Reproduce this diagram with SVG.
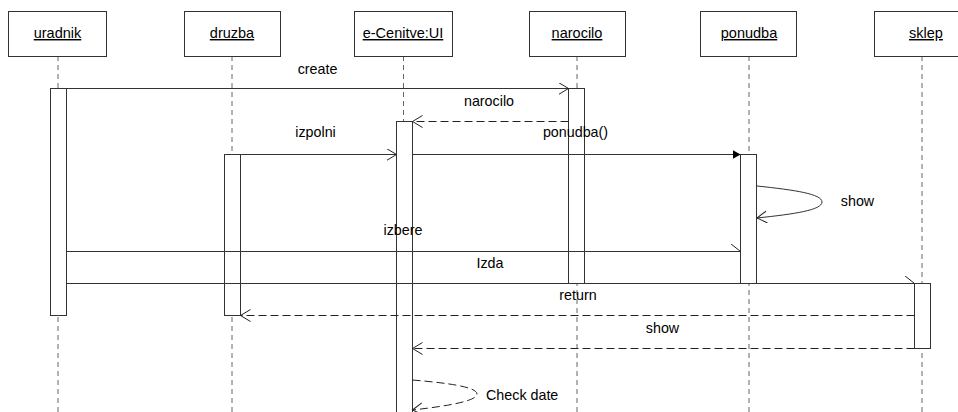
<svg xmlns="http://www.w3.org/2000/svg" width="958" height="412" viewBox="0 0 958 412">
<defs>
<style>
.hdr{fill:#fff;stroke:#333;stroke-width:1}
.ht{font-family:"Liberation Sans",Arial,sans-serif;font-size:14.5px;fill:#000;text-anchor:middle;text-decoration:underline}
.lbl{font-family:"Liberation Sans",Arial,sans-serif;font-size:14.3px;fill:#000;text-anchor:middle}
.life{stroke:#666;stroke-width:1;stroke-dasharray:5,4;fill:none}
.act{fill:#fff;stroke:#333;stroke-width:1}
.msg{stroke:#333;stroke-width:1;fill:none}
.ret{stroke:#222;stroke-width:1;fill:none;stroke-dasharray:8,4}
</style>
<marker id="open" markerWidth="12" markerHeight="14" refX="10" refY="6" orient="auto" markerUnits="userSpaceOnUse">
<path d="M0,0 L10,6 L0,12" fill="none" stroke="#222" stroke-width="1"/>
</marker>
<marker id="half" markerWidth="12" markerHeight="10" refX="10" refY="8" orient="auto" markerUnits="userSpaceOnUse">
<path d="M0,0 L10,8" fill="none" stroke="#222" stroke-width="1"/>
</marker>
<marker id="filled" markerWidth="10" markerHeight="10" refX="8" refY="4.5" orient="auto" markerUnits="userSpaceOnUse">
<path d="M0,0 L8,4.5 L0,9 Z" fill="#000"/>
</marker>
</defs>
<rect width="958" height="412" fill="#fff"/>

<g id="uradnik">
<line class="life" x1="58" y1="56" x2="58" y2="412"/>
<rect class="hdr" x="8.5" y="11.5" width="98" height="45"/>
<text class="ht" x="57.5" y="38">uradnik</text>
<rect class="act" x="50.5" y="88.5" width="16" height="227"/>
</g>

<g id="druzba">
<line class="life" x1="232" y1="56" x2="232" y2="412"/>
<rect class="hdr" x="184.5" y="11.5" width="96" height="45"/>
<text class="ht" x="232" y="38">druzba</text>
<rect class="act" x="224.5" y="154.5" width="16" height="161"/>
</g>

<g id="eCenitveUI">
<line class="life" x1="403.5" y1="56" x2="403.5" y2="412"/>
<rect class="hdr" x="354.5" y="11.5" width="98" height="45"/>
<text class="ht" x="403" y="38">e-Cenitve:UI</text>
<rect class="act" x="396.5" y="121.5" width="16" height="300"/>
</g>

<g id="narocilo">
<line class="life" x1="577" y1="56" x2="577" y2="412"/>
<rect class="hdr" x="529.5" y="11.5" width="96" height="45"/>
<text class="ht" x="577" y="38">narocilo</text>
<rect class="act" x="568.5" y="88.5" width="16" height="195"/>
</g>

<g id="ponudba">
<line class="life" x1="749" y1="56" x2="749" y2="412"/>
<rect class="hdr" x="700.5" y="11.5" width="96" height="45"/>
<text class="ht" x="749" y="38">ponudba</text>
<rect class="act" x="740.5" y="154.5" width="16" height="129"/>
</g>

<g id="sklep">
<line class="life" x1="922" y1="56" x2="922" y2="412"/>
<rect class="hdr" x="874.5" y="11.5" width="100" height="45"/>
<text class="ht" x="926" y="38">sklep</text>
<rect class="act" x="914.5" y="283.5" width="16" height="65"/>
</g>

<g id="connectors">
<line class="msg" x1="66.5" y1="88.5" x2="568.5" y2="88.5" marker-end="url(#open)"/>
<text class="lbl" x="317.5" y="74">create</text>

<line class="ret" x1="568.5" y1="121.5" x2="412.5" y2="121.5" marker-end="url(#open)"/>
<text class="lbl" x="489" y="106">narocilo</text>

<line class="msg" x1="240.5" y1="154.5" x2="396.5" y2="154.5" marker-end="url(#open)"/>
<text class="lbl" x="315.5" y="137">izpolni</text>

<line class="msg" x1="412.5" y1="154.5" x2="740.5" y2="154.5" marker-end="url(#filled)"/>
<text class="lbl" x="575.5" y="137">ponudba()</text>

<path class="msg" d="M757,186 C795,190 822,194 822,202 C822,210 795,214 757,218" marker-end="url(#open)"/>
<text class="lbl" x="857.5" y="206">show</text>

<line class="msg" x1="66.5" y1="251.5" x2="740.5" y2="251.5" marker-end="url(#half)"/>
<text class="lbl" x="403" y="235">izbere</text>

<line class="msg" x1="66.5" y1="283.5" x2="914.5" y2="283.5" marker-end="url(#half)"/>
<text class="lbl" x="490" y="268">Izda</text>

<line class="ret" x1="914.5" y1="315.5" x2="240.5" y2="315.5" marker-end="url(#open)"/>
<text class="lbl" x="578" y="300">return</text>

<line class="ret" x1="914.5" y1="348.5" x2="412.5" y2="348.5" marker-end="url(#open)"/>
<text class="lbl" x="662.5" y="333">show</text>

<path class="ret" d="M412.5,380 C448,383 477,387 477,394 C477,401 448,406 412.5,410" marker-end="url(#open)"/>
<text class="lbl" x="486" y="400" style="text-anchor:start">Check date</text>
</g>
</svg>
